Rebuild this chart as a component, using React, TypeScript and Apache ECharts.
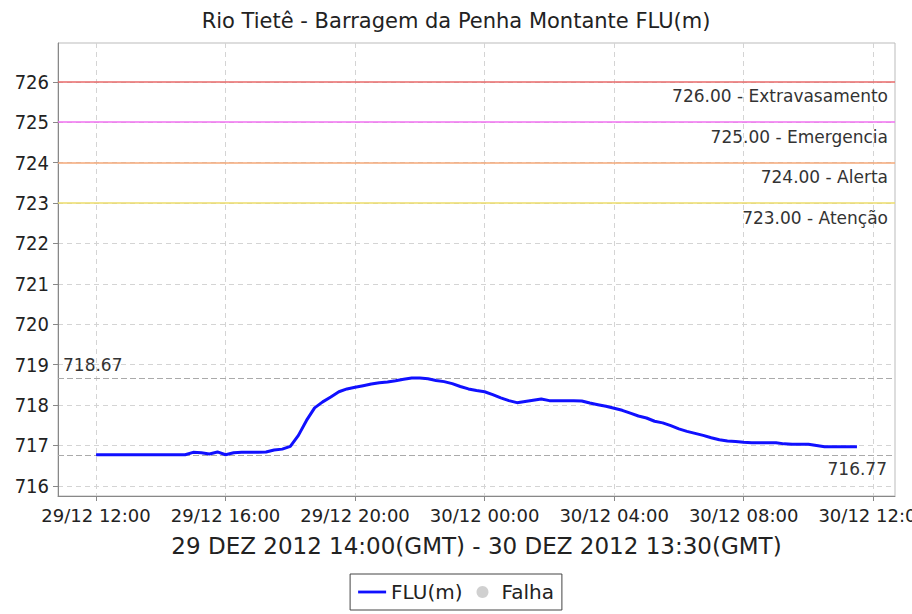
import React, { useEffect, useRef } from "react";
import * as echarts from "echarts";

// Level readings FLU(m), every 15 minutes from 29/12 12:00 to 30/12 11:30 (local time)
const startHour = 12; // hours since 29/12 00:00
const stepHours = 0.25;
const fluValues = [
  716.77, 716.77, 716.77, 716.77, 716.77, 716.77, 716.77, 716.77, 716.77, 716.77, 716.77, 716.77,
  716.83, 716.82, 716.79, 716.84, 716.77, 716.82, 716.83, 716.83, 716.83, 716.84, 716.89, 716.91,
  716.98, 717.25, 717.62, 717.93, 718.08, 718.2, 718.33, 718.4,
  718.44, 718.48, 718.52, 718.55, 718.57, 718.6, 718.64, 718.67,
  718.67, 718.65, 718.61, 718.58, 718.53, 718.46, 718.4, 718.36,
  718.33, 718.26, 718.18, 718.11, 718.06, 718.09, 718.12, 718.15,
  718.11, 718.11, 718.11, 718.11, 718.1, 718.05, 718.01, 717.97,
  717.92, 717.87, 717.8, 717.73, 717.68, 717.6, 717.56, 717.49,
  717.41, 717.35, 717.3, 717.25, 717.19, 717.14, 717.11, 717.1,
  717.08, 717.07, 717.07, 717.07, 717.07, 717.04, 717.03, 717.03,
  717.03, 717.0, 716.97, 716.97, 716.97, 716.97, 716.97,
];

const xTicks = [12, 16, 20, 24, 28, 32, 36];
const yTicks = [716, 717, 718, 719, 720, 721, 722, 723, 724, 725, 726];

const thresholds = [
  { value: 726, label: "726.00 - Extravasamento", color: "#e86a6a" },
  { value: 725, label: "725.00 - Emergencia", color: "#f070f0" },
  { value: 724, label: "724.00 - Alerta", color: "#f4a878" },
  { value: 723, label: "723.00 - Atenção", color: "#ecdc6a" },
];
const maxLevel = 718.67;
const minLevel = 716.77;

const titleText = "Rio Tietê - Barragem da Penha Montante FLU(m)";
const axisTitle = "29 DEZ 2012 14:00(GMT) - 30 DEZ 2012 13:30(GMT)";

const FONT = "'DejaVu Sans', sans-serif";
const FONT_C = "'DejaVu Sans Condensed', 'DejaVu Sans', sans-serif";

function fmtX(h: number): string {
  const day = h >= 24 ? 30 : 29;
  const hh = Math.round(h) % 24;
  return `${day}/12 ${String(hh).padStart(2, "0")}:00`;
}

export default function App() {
  const ref = useRef<HTMLDivElement>(null);
  useEffect(() => {
    if (!ref.current) return;
    const chart = echarts.init(ref.current, null, { renderer: "svg" });
    const data = fluValues.map((v, i) => [startHour + i * stepHours, v]);
    const lbl = (text: string, position: string, distance: number[]) => ({
      show: true,
      formatter: text,
      position,
      distance,
      color: "#333",
      fontSize: 17,
      fontFamily: FONT,
    });
    const markData: any[] = thresholds.map((t) => ({
      yAxis: t.value,
      lineStyle: { color: t.color, type: "solid", width: 1.5 },
      label: lbl(t.label, "insideEndBottom", [7, 6]),
    }));
    markData.push({
      yAxis: maxLevel,
      lineStyle: { color: "#aaa", type: [6, 3], width: 1.2 },
      label: lbl(maxLevel.toFixed(2), "insideStartTop", [5, 5]),
    });
    markData.push({
      yAxis: minLevel,
      lineStyle: { color: "#aaa", type: [6, 3], width: 1.2 },
      label: lbl(minLevel.toFixed(2), "insideEndBottom", [8, 6]),
    });
    chart.setOption({
      animation: false,
      backgroundColor: "#fff",
      title: {
        text: titleText,
        left: "center",
        top: 5,
        textStyle: { fontSize: 21, fontWeight: "normal", color: "#222", fontFamily: FONT },
      },
      grid: {
        left: 58,
        right: 17,
        top: 43,
        bottom: 118,
        show: true,
        borderColor: "#bbb",
        borderWidth: 1,
        backgroundColor: "#fff",
        containLabel: false,
        outerBoundsMode: "none",
      },
      legend: {
        data: [
          { name: "FLU(m)", icon: "path://M0,0h30v3h-30z" },
          { name: "Falha", icon: "circle" },
        ],
        left: "center",
        top: 574,
        itemWidth: 28,
        itemHeight: 12,
        itemGap: 14,
        borderColor: "#444",
        borderWidth: 1,
        borderRadius: 0,
        padding: [8, 8],
        textStyle: { fontSize: 20, color: "#222", fontFamily: FONT },
      },
      xAxis: {
        type: "value",
        min: 10.825,
        max: 36.675,
        name: axisTitle,
        nameLocation: "middle",
        nameGap: 38,
        nameTextStyle: { fontSize: 23, color: "#222", fontFamily: FONT },
        axisLine: { show: true, onZero: false, lineStyle: { color: "#888" } },
        axisTick: { show: true, customValues: xTicks, length: 5, lineStyle: { color: "#888" } },
        axisLabel: {
          customValues: xTicks,
          formatter: (v: number) => fmtX(v),
          fontSize: 18,
          color: "#222",
          margin: 10,
          fontFamily: FONT,
          showMaxLabel: true,
          showMinLabel: true,
          hideOverlap: false,
        },
        splitLine: { show: true, lineStyle: { color: "#d4d4d4", type: [5, 4] } },
      },
      yAxis: {
        type: "value",
        min: 715.75,
        max: 726.96,
        axisLine: { show: true, onZero: false, lineStyle: { color: "#888" } },
        axisTick: { show: true, customValues: yTicks, length: 5, lineStyle: { color: "#888" } },
        axisLabel: {
          customValues: yTicks,
          fontSize: 20,
          color: "#222",
          margin: 9,
          fontFamily: FONT_C,
        },
        splitLine: { show: true, lineStyle: { color: "#d4d4d4", type: [5, 4] } },
      },
      series: [
        {
          name: "FLU(m)",
          type: "line",
          data,
          symbol: "none",
          lineStyle: { color: "#1010ff", width: 3 },
          itemStyle: { color: "#1010ff" },
          markLine: { symbol: "none", silent: true, data: markData },
          z: 5,
        },
        {
          name: "Falha",
          type: "scatter",
          data: [],
          symbol: "circle",
          itemStyle: { color: "#c4c4c4" },
        },
      ],
    });
    return () => chart.dispose();
  }, []);
  return <div ref={ref} style={{ width: 912, height: 614, position: "absolute", left: 0, top: 0 }} />;
}
